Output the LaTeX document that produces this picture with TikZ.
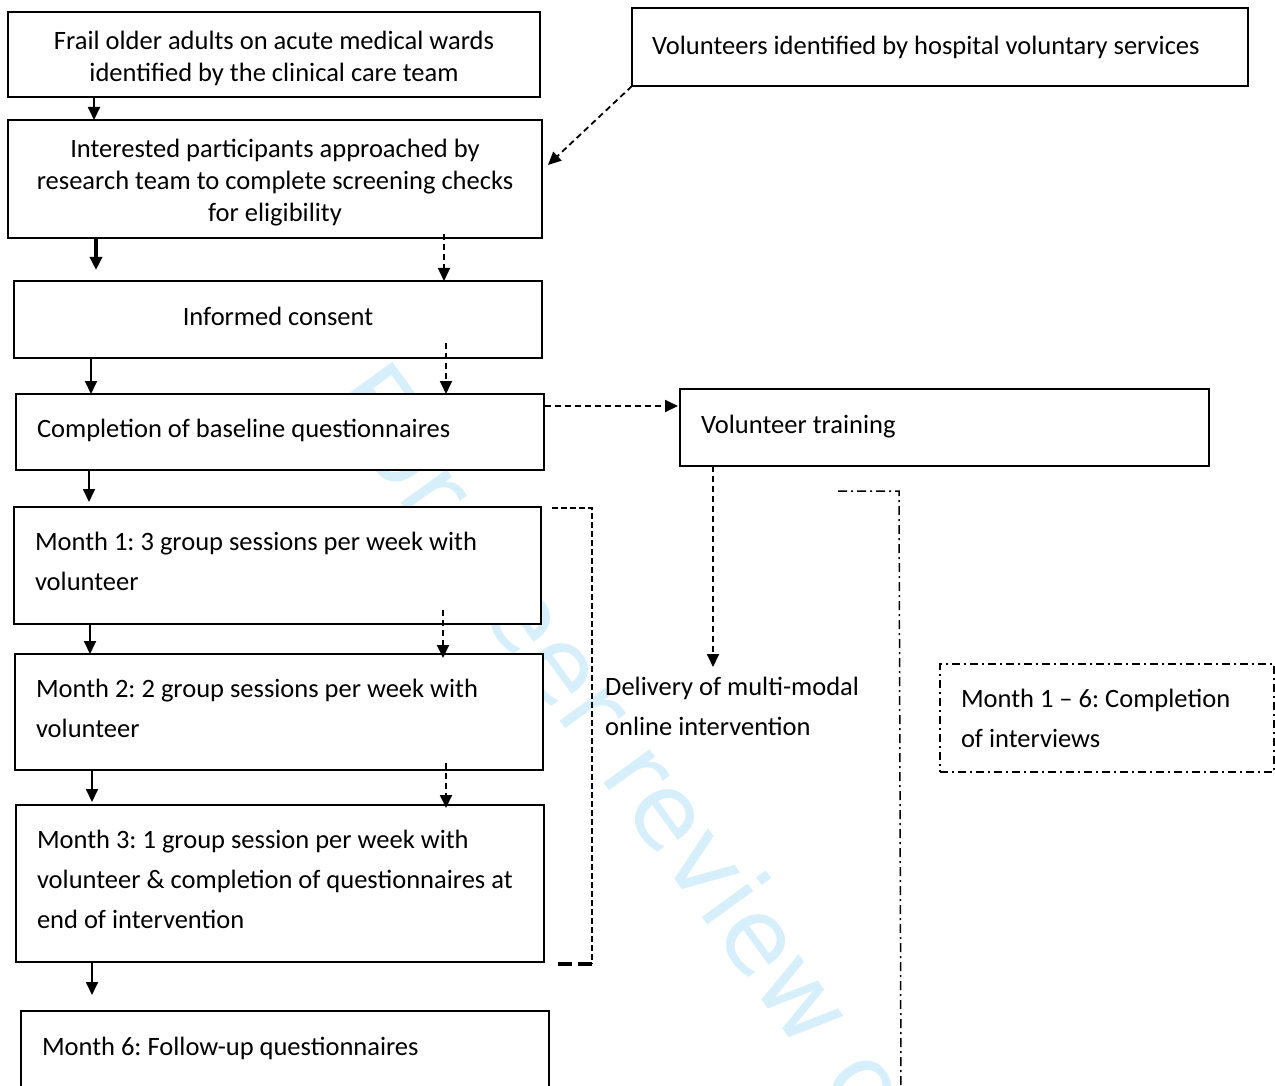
\documentclass[tikz,border=0pt]{standalone}
\usepackage{fontspec}
\setmainfont{Carlito}
\newfontfamily\markfont{DejaVu Sans}
\usetikzlibrary{arrows.meta,calc}
\definecolor{markblue}{RGB}{214,239,251}
\frenchspacing
\newcommand\lastgap[1]{\endgraf\kern#1}
\newcommand\plainspace{\spaceskip=\fontdimen2\font\xspaceskip=0pt\relax}
\begin{document}
\begin{tikzpicture}[x=1pt,y=-1pt,
    box/.style={draw,line width=1.8pt,fill=white,anchor=north west,outer sep=0pt,inner ysep=0pt,
      font=\fontsize{26.5}{32}\selectfont},
    ctext/.style={execute at begin node={\centering\plainspace}},
    ltext/.style={execute at begin node={\raggedright\plainspace}},
    stepbox/.style={box,ltext,inner xsep=21pt,font=\fontsize{26.5}{40}\selectfont},
    textup/.style={execute at end node={\lastgap{#1}}},
    arr/.style={line width=1.8pt,-{Triangle[length=13pt,width=12pt]}},
    darr/.style={arr,dash pattern=on 6pt off 4pt},
    dashdot/.style={line width=1.5pt,dash pattern=on 9pt off 4pt on 2pt off 4pt}]
        \path[use as bounding box] (0,0) rectangle (1275,1086);
        \clip (0,0) rectangle (1275,1086);
        %% Watermark
        \node[text=markblue,font=\fontsize{104}{104}\selectfont\markfont,rotate=-54,anchor=base west] (wm) at (323,396) {For peer review only};
        %% Recruitment
        \node[box,ctext,textup=-8pt,minimum width=532,minimum height=85,text width=492] (frail) at (8,12) {Frail older adults on acute medical wards\\identified by the clinical care team};
        \node[box,ltext,inner xsep=20pt,minimum width=616,minimum height=78,text width=576] (vols) at (632,8) {Volunteers identified by hospital voluntary services};
        \node[box,ctext,textup=-8pt,minimum width=534,minimum height=118,text width=494] (screen) at (8,120) {Interested participants approached by\\research team to complete screening checks\\for eligibility};
        \node[box,ctext,textup=6pt,minimum width=528,minimum height=77,text width=488] (consent) at (14,281) {Informed consent};
        \node[stepbox,textup=4pt,minimum width=528,minimum height=76,text width=486] (baseline) at (16,394) {Completion of baseline questionnaires};
        \node[stepbox,textup=2pt,minimum width=529,minimum height=77,text width=487] (training) at (680,389) {Volunteer training};
        %% Intervention months
        \node[stepbox,textup=8pt,minimum width=527,minimum height=117,text width=485] (month1) at (14,507) {Month 1: 3 group sessions per week with\\volunteer};
        \node[stepbox,textup=8pt,minimum width=528,minimum height=116,text width=486] (month2) at (15,654) {Month 2: 2 group sessions per week with\\volunteer};
        \node[stepbox,textup=8pt,minimum width=528,minimum height=157,text width=486] (month3) at (16,805) {Month 3: 1 group session per week with\\volunteer \& completion of questionnaires at\\end of intervention};
        \node[stepbox,textup=4pt,minimum width=528,minimum height=78,text width=486] (month6) at (21,1011) {Month 6: Follow-up questionnaires};
        \node[anchor=north west,align=left,inner xsep=0pt,inner ysep=10pt,font=\fontsize{26.5}{40}\selectfont] (online) at (605,667) {Delivery of multi-modal\\online intervention};
        \node[stepbox,dashdot,line width=1.6pt,dash pattern=on 8pt off 4pt on 2pt off 4pt,minimum width=334,minimum height=108,text width=292] (interviews) at (940,664) {Month 1 -- 6: Completion\\of interviews};
        %% Participant path
        \draw[arr] (frail.south -| 94,0) -- (screen.north -| 94,0);
        \draw[arr,line width=3.5pt] (screen.south -| 96,0) -- ($(consent.north -| 96,0)+(0,-11)$);
        \draw[arr] (consent.south -| 91,0) -- (baseline.north -| 91,0);
        \draw[arr] (baseline.south -| 89,0) -- ($(month1.north -| 89,0)+(0,-5)$);
        \draw[arr] (month1.south -| 90,0) -- (month2.north -| 90,0);
        \draw[arr] (month2.south -| 92,0) -- ($(month3.north -| 92,0)+(0,-3)$);
        \draw[arr] (month3.south -| 92,0) -- ($(month6.north -| 92,0)+(0,-16)$);
        %% Volunteer path
        \draw[darr] (vols.south west) -- ($(screen.north east)+(6,45)$);
        \draw[darr] ($(screen.south -| 444,0)+(0,-4)$) -- (consent.north -| 444,0);
        \draw[darr] ($(consent.south -| 446,0)+(0,-15)$) -- (baseline.north -| 446,0);
        \draw[darr] ($(baseline.north east)+(1,12)$) -- ($(training.north west)+(-2,17)$);
        \draw[darr] (training.south -| 713,0) -- (online.north -| 713,0);
        \draw[darr] ($(month1.south -| 443,0)+(0,-14)$) -- ($(month2.north -| 443,0)+(0,4)$);
        \draw[darr] ($(month2.south -| 446,0)+(0,-7)$) -- ($(month3.north -| 446,0)+(0,3)$);
        %% Brackets
        \coordinate (brtop) at ($(month1.north east)+(11,1)$);
        \coordinate (brbot) at ($(month3.south east)+(48,2)$);
        \draw[line width=1.8pt,dash pattern=on 6pt off 3pt] (brtop) -- (brtop -| brbot) -- (brbot);
        \draw[line width=4pt,dash pattern=on 14pt off 6pt] (brbot) -- ++(-39,0);
        \draw[dashdot] (838,491) -- (899,491) -- (901,1090);
\end{tikzpicture}
\end{document}
